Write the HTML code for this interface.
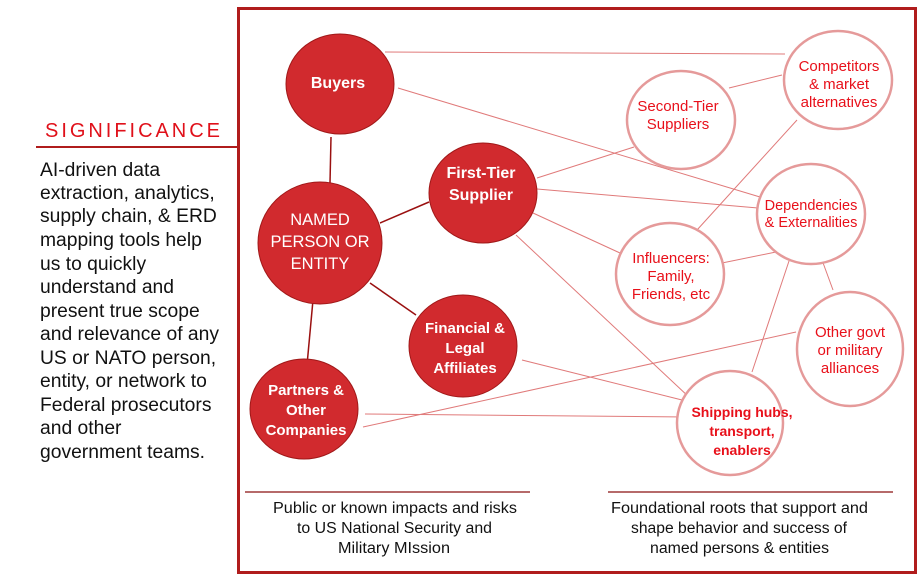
<!DOCTYPE html>
<html><head><meta charset="utf-8"><style>
html,body{margin:0;padding:0;background:#fff;width:924px;height:581px;overflow:hidden}
svg{display:block}
</style></head><body>
<svg width="924" height="581" viewBox="0 0 924 581" xmlns="http://www.w3.org/2000/svg">
<rect x="238.5" y="8.5" width="677" height="564" fill="none" stroke="#b01c1c" stroke-width="3"/>
<text x="45" y="137" font-family="Liberation Sans, sans-serif" font-size="20" fill="#e0101a" textLength="175" lengthAdjust="spacing">SIGNIFICANCE</text>
<line x1="36" y1="147" x2="238" y2="147" stroke="#b01c1c" stroke-width="2"/>
<g font-family="Liberation Sans, sans-serif" font-size="19.3" fill="#111">
<text x="40" y="176">AI-driven data</text>
<text x="40" y="199">extraction, analytics,</text>
<text x="40" y="222">supply chain, &amp; ERD</text>
<text x="40" y="246">mapping tools help</text>
<text x="40" y="270">us to quickly</text>
<text x="40" y="293">understand and</text>
<text x="40" y="317">present true scope</text>
<text x="40" y="340">and relevance of any</text>
<text x="40" y="364">US or NATO person,</text>
<text x="40" y="387">entity, or network to</text>
<text x="40" y="411">Federal prosecutors</text>
<text x="40" y="434">and other</text>
<text x="40" y="458">government teams.</text>
</g>
<g stroke="#e07a7a" stroke-width="1" fill="none">
<line x1="385" y1="52" x2="785" y2="54"/>
<line x1="398" y1="88" x2="760" y2="197"/>
<line x1="537" y1="178" x2="634" y2="147"/>
<line x1="537" y1="189" x2="758" y2="208"/>
<line x1="533" y1="213" x2="620" y2="253"/>
<line x1="516" y1="235" x2="690" y2="398"/>
<line x1="729" y1="88" x2="782" y2="75"/>
<line x1="797" y1="120" x2="697" y2="230"/>
<line x1="776" y1="252" x2="722" y2="263"/>
<line x1="790" y1="258" x2="752" y2="372"/>
<line x1="822" y1="260" x2="833" y2="290"/>
<line x1="522" y1="360" x2="690" y2="402"/>
<line x1="365" y1="414" x2="687" y2="417"/>
<line x1="363" y1="427" x2="796" y2="332"/>
</g>
<g stroke="#9a1010" stroke-width="1.5">
<line x1="331" y1="137" x2="330" y2="183"/>
<line x1="380" y1="223" x2="429" y2="202"/>
<line x1="370" y1="283" x2="416" y2="315"/>
<line x1="313" y1="300" x2="307" y2="365"/>
</g>
<g fill="#d12a2e" stroke="#a01818" stroke-width="1">
<ellipse cx="340" cy="84" rx="54" ry="50"/>
<ellipse cx="320" cy="243" rx="62" ry="61"/>
<ellipse cx="483" cy="193" rx="54" ry="50"/>
<ellipse cx="463" cy="346" rx="54" ry="51"/>
<ellipse cx="304" cy="409" rx="54" ry="50"/>
</g>
<g fill="#fff" stroke="#e59a9a" stroke-width="2.5">
<ellipse cx="681" cy="120" rx="54" ry="49"/>
<ellipse cx="838" cy="80" rx="54" ry="49"/>
<ellipse cx="811" cy="214" rx="54" ry="50"/>
<ellipse cx="670" cy="274" rx="54" ry="51"/>
<ellipse cx="850" cy="349" rx="53" ry="57"/>
<ellipse cx="730" cy="423" rx="53" ry="52"/>
</g>
<g font-family="Liberation Sans, sans-serif" font-weight="bold" fill="#fff" text-anchor="middle" font-size="16">
<text x="338" y="88">Buyers</text>
<text x="481" y="178">First-Tier</text>
<text x="481" y="200">Supplier</text>
<text x="465" y="333" font-size="15">Financial &amp;</text>
<text x="465" y="353" font-size="15">Legal</text>
<text x="465" y="373" font-size="15">Affiliates</text>
<text x="306" y="395" font-size="15">Partners &amp;</text>
<text x="306" y="415" font-size="15">Other</text>
<text x="306" y="435" font-size="15">Companies</text>
</g>
<g font-family="Liberation Sans, sans-serif" fill="#fff" text-anchor="middle" font-size="16.5">
<text x="320" y="225">NAMED</text>
<text x="320" y="247">PERSON OR</text>
<text x="320" y="269">ENTITY</text>
</g>
<g font-family="Liberation Sans, sans-serif" fill="#e8101a" text-anchor="middle" font-size="15">
<text x="678" y="111">Second-Tier</text>
<text x="678" y="129">Suppliers</text>
<text x="839" y="71">Competitors</text>
<text x="839" y="89">&amp; market</text>
<text x="839" y="107">alternatives</text>
<text x="811" y="210" font-size="14.5">Dependencies</text>
<text x="811" y="227" font-size="14.5">&amp; Externalities</text>
<text x="671" y="263">Influencers:</text>
<text x="671" y="281">Family,</text>
<text x="671" y="299">Friends, etc</text>
<text x="850" y="337">Other govt</text>
<text x="850" y="355">or military</text>
<text x="850" y="373">alliances</text>
</g>
<g font-family="Liberation Sans, sans-serif" font-weight="bold" fill="#e8101a" text-anchor="middle" font-size="14">
<text x="742" y="417">Shipping hubs,</text>
<text x="742" y="436">transport,</text>
<text x="742" y="455">enablers</text>
</g>
<line x1="245" y1="492" x2="530" y2="492" stroke="#8a1010" stroke-width="1.2"/>
<line x1="608" y1="492" x2="893" y2="492" stroke="#8a1010" stroke-width="1.2"/>
<g font-family="Liberation Sans, sans-serif" fill="#111" font-size="15.5">
<text x="273" y="513" textLength="244" lengthAdjust="spacingAndGlyphs">Public or known impacts and risks</text>
<text x="297" y="533" textLength="195" lengthAdjust="spacingAndGlyphs">to US National Security and</text>
<text x="338" y="553" textLength="112" lengthAdjust="spacingAndGlyphs">Military MIssion</text>
<text x="611" y="513" textLength="257" lengthAdjust="spacingAndGlyphs">Foundational roots that support and</text>
<text x="631" y="533" textLength="216" lengthAdjust="spacingAndGlyphs">shape behavior and success of</text>
<text x="650" y="553" textLength="179" lengthAdjust="spacingAndGlyphs">named persons &amp; entities</text>
</g>
</svg>
</body></html>
